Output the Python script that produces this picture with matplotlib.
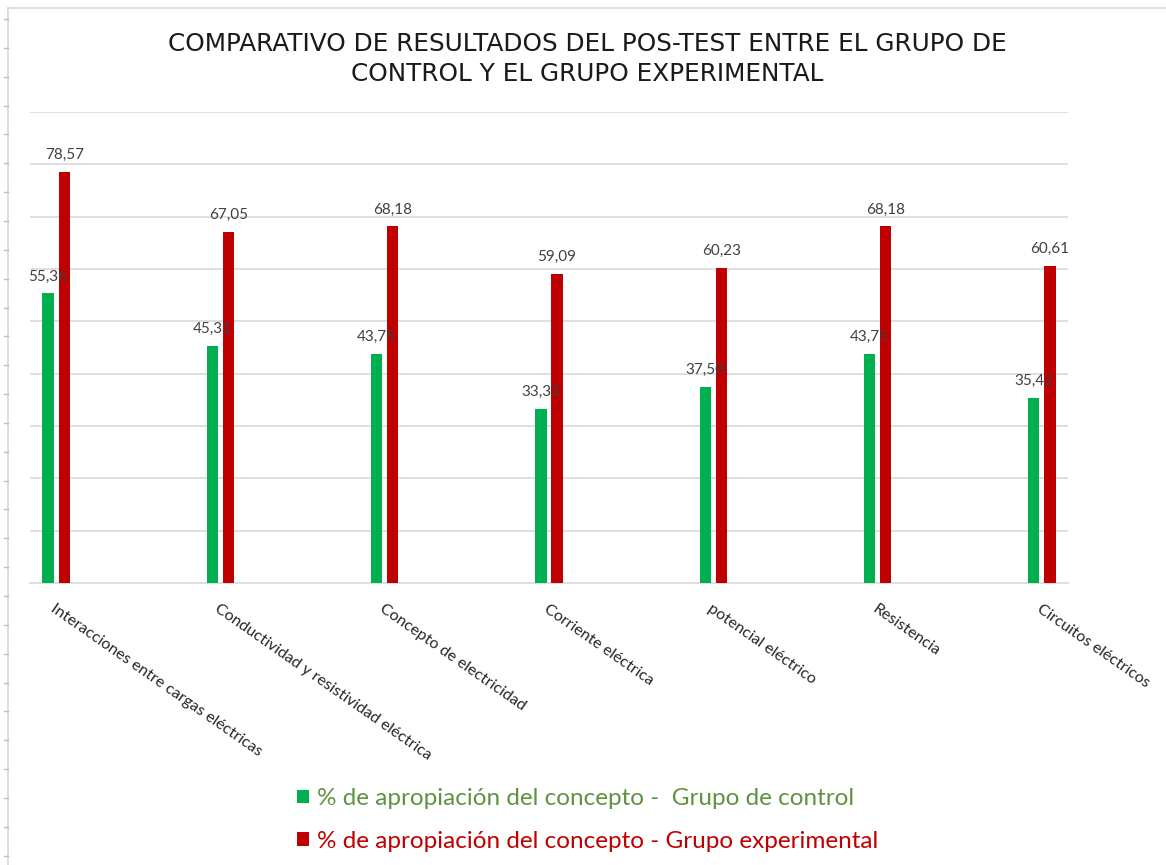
import matplotlib
matplotlib.use('Agg')
from matplotlib import pyplot as plt
from matplotlib.lines import Line2D
import numpy as np

# data
categorias = ['Interacciones entre cargas eléctricas',
              'Conductividad y resistividad eléctrica',
              'Concepto de electricidad',
              'Corriente eléctrica',
              'potencial eléctrico',
              'Resistencia',
              'Circuitos eléctricos']
grupo_control = [55.36, 45.31, 43.75, 33.33, 37.50, 43.75, 35.42]
grupo_experimental = [78.57, 67.05, 68.18, 59.09, 60.23, 68.18, 60.61]
etiqueta_control = '% de apropiación del concepto -  Grupo de control'
etiqueta_experimental = '% de apropiación del concepto - Grupo experimental'
titulo = 'COMPARATIVO DE RESULTADOS DEL POS-TEST ENTRE EL GRUPO DE\nCONTROL Y EL GRUPO EXPERIMENTAL'

# colors
verde = '#00B050'
rojo = '#C00000'
verde_texto = '#5E9340'
gris_grid = '#D9D9D9'
gris_label = '#404040'

matplotlib.rcParams['font.family'] = ['Lato', 'DejaVu Sans']

fig = plt.figure(figsize=(11.66, 8.65), dpi=100)
W, H = 1166, 865
ax = fig.add_axes([30 / W, 1 - 583 / H, 1038 / W, (583 - 112) / H])

x = np.arange(len(categorias))
ancho = 0.068
sep = 0.049
b1 = ax.bar(x - sep, grupo_control, ancho, color=verde, label=etiqueta_control, zorder=3)
b2 = ax.bar(x + sep, grupo_experimental, ancho, color=rojo, label=etiqueta_experimental, zorder=3)

for barras in (b1, b2):
    for r in barras:
        h = r.get_height()
        ax.annotate(f'{h:.2f}'.replace('.', ','), (r.get_x() + r.get_width() / 2, h),
                    xytext=(0, 7), textcoords='offset points', ha='center', va='bottom',
                    fontsize=11, color=gris_label, zorder=4)

ax.set_xlim(-0.159, 6.159)
ax.set_ylim(0, 90)
ax.set_yticks(np.arange(10, 91, 10))
ax.yaxis.grid(True, color=gris_grid, linewidth=1.2, zorder=0)
ax.tick_params(axis='y', left=False, labelleft=False)
ax.tick_params(axis='x', bottom=False, pad=10)
for s in ('top', 'left', 'right'):
    ax.spines[s].set_visible(False)
ax.spines['bottom'].set_color(gris_grid)
ax.spines['bottom'].set_linewidth(1.2)

ax.set_xticks(x)
ax.set_xticklabels(categorias, rotation=-35, ha='left', va='top',
                   rotation_mode='anchor', fontsize=11.5, color='#262626')

fig.text(587 / W, 1 - 59 / H, titulo, ha='center', va='center', fontsize=17.8,
         family='DejaVu Sans', color='#1a1a1a', linespacing=1.32)

leg = fig.legend(handles=[b1, b2], loc='upper left', bbox_to_anchor=(285 / W, 1 - 776 / H),
                 frameon=False, fontsize=17.5, handlelength=0.5, handleheight=0.5,
                 handletextpad=0.3, labelspacing=0.9, borderpad=0,
                 labelcolor=[verde_texto, rojo])

# spreadsheet frame at the left/top edge
fig.add_artist(Line2D([8 / W, 8 / W], [0, 1 - 8 / H], color=gris_grid, lw=1.2,
                      transform=fig.transFigure))
fig.add_artist(Line2D([8 / W, 1], [1 - 8 / H, 1 - 8 / H], color=gris_grid, lw=1.2,
                      transform=fig.transFigure))
for yy in np.arange(19, H, 28.85):
    fig.add_artist(Line2D([4 / W, 8 / W], [1 - yy / H, 1 - yy / H], color='#BFBFBF',
                          lw=1, transform=fig.transFigure))

plt.savefig('out.png', dpi=100)
